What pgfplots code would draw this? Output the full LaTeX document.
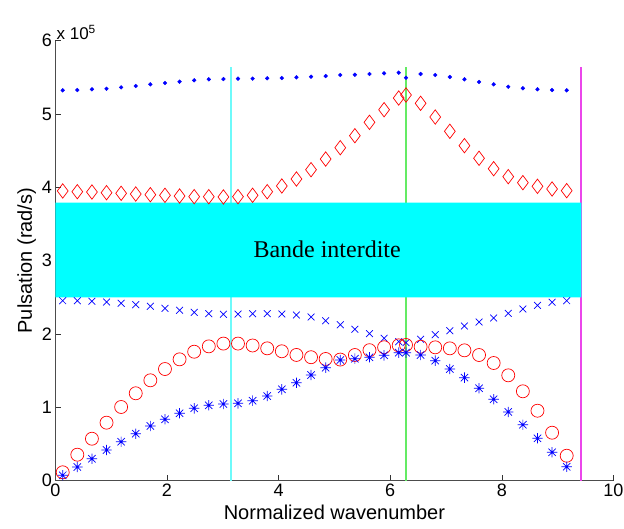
\documentclass[border=0pt]{standalone}
\usepackage{pgfplots}
\usepackage{pgfplotstable}
\pgfplotsset{compat=1.18}
\usepackage{fontspec}
\setmainfont{Liberation Sans}
\newfontfamily\seriffont{Liberation Serif}
\definecolor{mblue}{RGB}{0,0,255}
\definecolor{mred}{RGB}{255,0,0}
\definecolor{bandcyan}{RGB}{0,255,255}
\definecolor{linecyan}{RGB}{110,250,250}
\definecolor{linegreen}{RGB}{100,235,100}
\definecolor{linemagenta}{RGB}{235,70,235}
\pgfdeclareplotmark{mstar}{%
  \pgfpathmoveto{\pgfqpoint{-\pgfplotmarksize}{0pt}}\pgfpathlineto{\pgfqpoint{\pgfplotmarksize}{0pt}}%
  \pgfpathmoveto{\pgfqpoint{0pt}{-\pgfplotmarksize}}\pgfpathlineto{\pgfqpoint{0pt}{\pgfplotmarksize}}%
  \pgfpathmoveto{\pgfqpoint{-0.707\pgfplotmarksize}{-0.707\pgfplotmarksize}}\pgfpathlineto{\pgfqpoint{0.707\pgfplotmarksize}{0.707\pgfplotmarksize}}%
  \pgfpathmoveto{\pgfqpoint{-0.707\pgfplotmarksize}{0.707\pgfplotmarksize}}\pgfpathlineto{\pgfqpoint{0.707\pgfplotmarksize}{-0.707\pgfplotmarksize}}%
  \pgfusepathqstroke}
% x, dots, diamonds, crosses, circles, stars (units of 10^5 rad/s)
\pgfplotstableread{
x      dots   diam   cross  circ   star
0.1309 5.323  3.950  2.453  0.112  0.071
0.3927 5.327  3.940  2.453  0.352  0.184
0.6545 5.337  3.936  2.445  0.570  0.297
0.9163 5.345  3.926  2.435  0.789  0.416
1.1781 5.364  3.918  2.417  1.003  0.529
1.4399 5.382  3.909  2.398  1.190  0.638
1.7017 5.405  3.899  2.376  1.367  0.744
1.9635 5.423  3.891  2.349  1.521  0.835
2.2253 5.441  3.881  2.322  1.653  0.917
2.4871 5.460  3.872  2.294  1.757  0.985
2.7489 5.473  3.872  2.276  1.830  1.026
3.0107 5.477  3.868  2.267  1.868  1.044
3.2725 5.482  3.872  2.271  1.868  1.053
3.5343 5.482  3.891  2.276  1.842  1.089
3.7961 5.487  3.940  2.276  1.803  1.153
4.0579 5.491  4.018  2.271  1.763  1.244
4.3197 5.500  4.113  2.258  1.713  1.334
4.5815 5.509  4.240  2.231  1.682  1.439
4.8433 5.518  4.386  2.180  1.658  1.539
5.1051 5.532  4.540  2.125  1.650  1.644
5.3669 5.536  4.704  2.063  1.712  1.662
5.6287 5.546  4.887  2.003  1.778  1.681
5.8905 5.555  5.059  1.940  1.818  1.708
6.1523 5.564  5.218  1.894  1.844  1.744
6.2832 5.495  5.259  1.880  1.849  1.744
6.5450 5.546  5.146  1.926  1.825  1.712
6.8068 5.532  4.959  1.989  1.817  1.635
7.0686 5.505  4.764  2.044  1.803  1.521
7.3304 5.473  4.568  2.108  1.776  1.403
7.5922 5.437  4.396  2.162  1.712  1.258
7.8540 5.405  4.254  2.217  1.603  1.108
8.1158 5.372  4.145  2.281  1.435  0.935
8.3776 5.351  4.063  2.340  1.217  0.761
8.6394 5.337  4.014  2.390  0.952  0.576
8.9012 5.327  3.977  2.431  0.652  0.385
9.1630 5.323  3.954  2.453  0.338  0.188
}\bandtable
\begin{document}
\begin{tikzpicture}
\useasboundingbox (-55.4pt,-47.5pt) rectangle (568.6pt,480.5pt);
\begin{axis}[
  at={(0pt,0pt)}, anchor=south west,
  width=558pt, height=439.8pt, scale only axis,
  xmin=0, xmax=10, ymin=0, ymax=6,
  axis x line*=bottom, axis y line*=left,
  axis line style={-, black!70},
  tick style={black!80, line width=0.6pt},
  tick align=inside, major tick length=6pt,
  xtick={0,2,...,10}, ytick={0,1,...,6},
  /pgf/number format/assume math mode=true,
  ticklabel style={font=\fontsize{18}{20}\selectfont},
  label style={font=\fontsize{20}{22}\selectfont},
  xlabel={Normalized wavenumber},
  ylabel={Pulsation (rad/s)},
  xlabel style={yshift=-1pt},
  ylabel style={yshift=-1pt},
  clip=false,
]
% reference lines at pi, 2pi, 3pi
\addplot[linecyan, line width=2pt] coordinates {(3.1416,0) (3.1416,5.64)};
\addplot[linegreen, line width=2pt] coordinates {(6.2832,0) (6.2832,5.64)};
\addplot[linemagenta, line width=2pt] coordinates {(9.4248,0) (9.4248,5.64)};
% forbidden band
\addplot[draw=none, fill=bandcyan] coordinates {(0,2.50) (9.4248,2.50) (9.4248,3.79) (0,3.79) (0,2.50)};
% branches
\addplot[only marks, mark=*, mark size=1.9pt, mblue] table[x=x, y=dots] {\bandtable};
\addplot[only marks, mark=diamond, mark size=7.2pt, mred, line width=0.7pt] table[x=x, y=diam] {\bandtable};
\addplot[only marks, mark=x, mark size=4.8pt, mblue, line width=0.7pt] table[x=x, y=cross] {\bandtable};
\addplot[only marks, mark=o, mark size=6.5pt, mred, line width=0.7pt] table[x=x, y=circ] {\bandtable};
\addplot[only marks, mark=mstar, mark size=5.2pt, mblue, line width=0.7pt] table[x=x, y=star] {\bandtable};
\node[font=\seriffont\fontsize{24}{26}\selectfont] at (axis cs:4.87,3.15) {Bande interdite};
\node[anchor=south west, font=\fontsize{17}{19}\selectfont, inner sep=1pt] at (axis cs:0,6) {x 10$^{\mathrm{5}}$};
\end{axis}
\end{tikzpicture}
\end{document}
